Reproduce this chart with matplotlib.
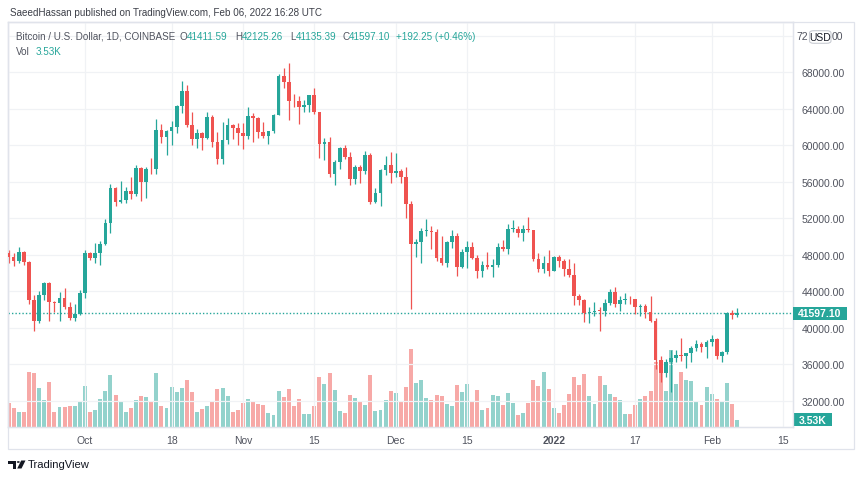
import matplotlib
matplotlib.use("Agg")
import matplotlib.pyplot as plt
import matplotlib.dates as mdates
from matplotlib.patches import Rectangle, FancyBboxPatch, Polygon, Circle
from matplotlib.transforms import blended_transform_factory
import pandas as pd

plt.rcParams['font.family'] = ['Liberation Sans', 'DejaVu Sans']

# ---------------- data ----------------
dates = pd.date_range("2021-09-16", "2022-02-06", freq="D")

opens = [
    48140, 47760, 47290, 48300, 47250, 42990, 40700, 43570, 44890, 42840, 42720, 43210, 42240, 41030, 41530,
    43790, 48140, 47660, 48200, 49230, 51500, 55340, 53800, 53950, 54960, 54680, 57480, 56010, 57370, 57350,
    61670, 60880, 61530, 62000, 64280, 66000, 62200, 60690, 61300, 60850, 63080, 60330, 58450, 60600, 62250, 61880,
    61340, 61010, 63230, 62940, 61430, 61020, 61530, 63310, 67550, 66940, 64900, 64810, 64150, 64390, 65520,
    63610, 60100, 60370, 56900, 58120, 59720, 58720, 56290, 57570, 57160, 58960, 53740, 54720, 57290, 57810,
    56950, 57220, 56500, 53600, 49200, 49400, 50600, 50650, 50500, 47600, 47150, 49390, 50100, 46700, 48350,
    48880, 47650, 46200, 46850, 46700, 46900, 48900, 48600, 50800, 50850, 50400, 50800, 50700, 47540, 46460, 47140,
    46210, 47740, 47300, 46440, 45830, 43430, 43080, 41560, 41730, 41860, 41830, 42740, 43920, 42590, 43090,
    43150, 43110, 42250, 42380, 41690, 40710, 36470, 35050, 36280, 36690, 36960, 36850, 37200, 37730, 38170, 37920,
    38480, 38740, 36950, 37320, 41570, 41411.59]

highs = [
    48490, 48150, 48840, 48370, 47350, 43640, 44000, 44980, 45000, 42960, 43920, 44350, 42790, 42600, 44100,
    48500, 48350, 49250, 49500, 51900, 55750, 55400, 56100, 55450, 56550, 57800, 57650, 57650, 58600, 62900,
    62350, 61700, 62650, 64450, 67000, 66600, 63700, 61750, 61450, 63700, 63300, 61500, 62500, 62950, 62300, 62400,
    62450, 64250, 63500, 63100, 62600, 61600, 63400, 67800, 68500, 69000, 65600, 65450, 65000, 65550, 66300,
    63620, 60800, 60950, 58350, 59850, 60000, 59300, 57850, 57800, 59400, 59170, 55300, 57400, 58850, 59250,
    59100, 57400, 57600, 53900, 49700, 50900, 51950, 51200, 50800, 50100, 49500, 50750, 50400, 48650, 49500,
    49450, 48000, 47300, 48300, 47500, 49300, 49600, 51350, 51850, 51150, 51250, 52100, 50720, 48150, 47900, 48550,
    47900, 47950, 47550, 47500, 47050, 43750, 43150, 42300, 42800, 42250, 43100, 44300, 44450, 43450, 43800,
    43450, 43200, 42650, 42550, 43500, 41100, 36850, 36550, 37550, 37550, 38900, 37250, 38000, 38700, 38400, 38700,
    39250, 38850, 37400, 41700, 41950, 42125.26]

lows = [
    47080, 46770, 47050, 46870, 42560, 39600, 40570, 43090, 40700, 41680, 40750, 42100, 40900, 40770, 41420,
    43300, 47450, 47100, 46900, 49050, 50400, 53350, 53650, 53700, 54100, 54450, 53900, 54200, 56850, 56880,
    60200, 58950, 60000, 61350, 63500, 62000, 60000, 59700, 59500, 60650, 59850, 58000, 57900, 60150, 60700, 60000,
    59600, 60700, 60400, 60750, 60750, 60150, 61350, 63300, 66300, 62800, 64200, 62300, 63700, 63600, 63400,
    58600, 58400, 56500, 55600, 57400, 58500, 55650, 55800, 55900, 56800, 53550, 53650, 53300, 56700, 55900,
    56500, 55850, 52000, 42000, 47700, 47100, 50050, 48650, 47350, 46850, 46700, 48700, 45700, 46550, 46500,
    47550, 45500, 45550, 46450, 45600, 46650, 48450, 48100, 50450, 50000, 49500, 50450, 47350, 46100, 46000, 45700,
    46200, 46700, 45700, 45550, 42500, 42450, 40650, 40500, 41250, 39650, 41300, 42450, 42300, 41850, 42550,
    42600, 41550, 41250, 41100, 40600, 35500, 34000, 34650, 32950, 36200, 36300, 35550, 36200, 37400, 37350, 36650,
    38000, 36600, 36250, 37150, 40950, 41135.39]

closes = [
    47760, 47290, 48300, 47250, 42990, 40700, 43570, 44890, 42840, 42720, 43210, 42240, 41030, 41530, 43790,
    48140, 47660, 48200, 49230, 51500, 55340, 53800, 53950, 54960, 54680, 57480, 56010, 57370, 57350, 61670,
    60880, 61530, 62000, 64280, 66000, 62200, 60690, 61300, 60850, 63080, 60330, 58450, 60600, 62250, 61880, 61340,
    61010, 63230, 62940, 61430, 61020, 61530, 63310, 67550, 66940, 64900, 64810, 64150, 64390, 65520, 63610,
    60100, 60370, 56900, 58120, 59720, 58720, 56290, 57570, 57160, 58960, 53740, 54720, 57290, 57810, 56950,
    57220, 56500, 53600, 49200, 49400, 50600, 50650, 50500, 47600, 47150, 49390, 50100, 46700, 48350, 48880,
    47650, 46200, 46850, 46700, 46900, 48900, 48600, 50800, 50850, 50400, 50800, 50700, 47540, 46460, 47140, 46210,
    47740, 47300, 46440, 45830, 43430, 43080, 41560, 41730, 41860, 41830, 42740, 43920, 42590, 43090, 43150,
    43110, 42250, 42380, 41690, 40710, 36470, 35050, 36280, 36690, 36960, 36850, 37200, 37730, 38170, 37920, 38480,
    38740, 36950, 37320, 41570, 41404.85, 41597.10]

volumes_k = [
    11.6, 9.0, 7.4, 7.1, 26.8, 26.3, 18.9, 13.1, 21.8, 7.4, 9.7, 9.7, 10.2, 10.2, 12.6,
    19.7, 7.4, 8.1, 13.5, 17.3, 25.2, 15.6, 12.3, 7.4, 9.4, 13.1, 15.2, 14.4, 11.9, 26.3, 10.3,
    9.0, 19.4, 16.8, 18.9, 22.9, 16.9, 7.1, 8.5, 10.3, 11.9, 18.5, 18.9, 15.2, 7.1, 8.1,
    11.6, 13.5, 12.7, 11.1, 10.6, 6.6, 5.8, 17.3, 14.7, 18.4, 10.3, 13.5, 6.1, 6.1, 10.3,
    24.2, 20.6, 26.0, 18.1, 7.9, 6.6, 15.6, 14.0, 12.3, 10.6, 25.2, 7.9, 8.2, 13.1, 17.6,
    16.5, 12.7, 19.4, 37.7, 21.3, 22.6, 14.0, 13.1, 15.6, 15.2, 11.1, 10.3, 20.2, 16.9, 21.0,
    12.7, 18.1, 8.2, 9.4, 15.6, 15.2, 10.6, 16.5, 11.6, 5.8, 6.9, 11.6, 22.6, 19.7, 26.8, 18.4,
    9.4, 6.9, 10.6, 16.0, 24.2, 20.2, 25.5, 15.2, 11.1, 24.7, 20.2, 16.1, 14.4, 13.1, 6.5,
    6.5, 10.6, 13.5, 15.2, 17.6, 31.5, 31.5, 17.2, 37.4, 20.9, 26.8, 22.9, 22.1, 12.7, 10.8, 19.5,
    16.1, 13.7, 12.7, 21.5, 11.3, 3.53]

price_ticks = [32000, 36000, 40000, 44000, 48000, 52000, 56000, 60000, 64000, 68000, 72000]
time_tick_dates = ["2021-10-01", "2021-10-18", "2021-11-01", "2021-11-15", "2021-12-01",
                   "2021-12-15", "2022-01-01", "2022-01-17", "2022-02-01", "2022-02-15"]
time_tick_labels = ["Oct", "18", "Nov", "15", "Dec", "15", "2022", "17", "Feb", "15"]

last_price = 41597.10
last_vol_label = "3.53K"

# ---------------- style ----------------
W, H = 860, 481
UP = "#26a69a"
DOWN = "#ef5350"
UP_V = "#93d2cc"
DOWN_V = "#f7a9a7"
TXT = "#50535e"
GRID = "#f0f2f5"
FRAME = "#e0e3eb"
FS = 7.5


def P(x, y):
    return (x / W, 1 - y / H)


fig = plt.figure(figsize=(W / 100, H / 100), dpi=100)
fig.patch.set_facecolor("white")

L, T, R, B = 8, 23, 793, 428
ax = fig.add_axes([L / W, 1 - B / H, (R - L) / W, (B - T) / H])
axv = ax.twinx()

x = mdates.date2num(dates)
x0 = mdates.date2num(pd.Timestamp("2021-10-01"))
ax.set_xlim(x0 - 15.11, x0 + 138.96)
ax.set_ylim(29117, 73515)
axv.set_ylim(0, 195.9)

# volume (underneath)
vcol = [UP_V if c >= o else DOWN_V for o, c in zip(opens, closes)]
axv.bar(x, volumes_k, width=0.78, color=vcol, linewidth=0)

ax.set_zorder(axv.get_zorder() + 1)
ax.patch.set_visible(False)

# grid
for p in price_ticks:
    ax.axhline(p, color=GRID, lw=0.9, zorder=0)
for d in time_tick_dates:
    ax.axvline(mdates.date2num(pd.Timestamp(d)), color=GRID, lw=0.9, zorder=0)

# candles
ccol = [UP if c >= o else DOWN for o, c in zip(opens, closes)]
ax.vlines(x, lows, highs, colors=ccol, lw=0.9, zorder=2)
bottoms = [min(o, c) for o, c in zip(opens, closes)]
heights = [max(abs(c - o), 90) for o, c in zip(opens, closes)]
ax.bar(x, heights, bottom=bottoms, width=0.72, color=ccol, linewidth=0, zorder=3)

# last price line
ax.axhline(last_price, color=UP, lw=1.0, ls=(0, (1, 1.5)), zorder=1)

# axes cosmetics
for a in (ax, axv):
    for s in a.spines.values():
        s.set_color(FRAME)
        s.set_linewidth(0.9)
axv.set_yticks([])
ax.yaxis.tick_right()
ax.set_yticks(price_ticks)
# the top label is partly hidden behind the "USD" badge (drawn separately below)
ax.set_yticklabels([f"{p:.2f}" if p != price_ticks[-1] else "" for p in price_ticks])
ax.tick_params(axis="y", length=0, pad=6, labelsize=FS, labelcolor=TXT)
ax.set_xticks([mdates.date2num(pd.Timestamp(d)) for d in time_tick_dates])
ax.set_xticklabels(time_tick_labels)
ax.tick_params(axis="x", length=0, pad=5.5, labelsize=FS, labelcolor=TXT)
ax.get_xticklabels()[6].set_fontweight("bold")

# visible pieces of the top price label around the USD badge
trl = blended_transform_factory(fig.transFigure, ax.transData)
top_label = f"{price_ticks[-1]:.2f}"
ax.text(808 / W, price_ticks[-1], top_label[:2], transform=trl, ha="right", va="center",
        fontsize=FS, color=TXT, clip_on=False)
ax.text(831.5 / W, price_ticks[-1], top_label[-2:], transform=trl, ha="left", va="center",
        fontsize=FS, color=TXT, clip_on=False)

# outer frame around price / time scales
fig.add_artist(Rectangle(P(L, 450), (854 - L) / W, (450 - T) / H, transform=fig.transFigure,
                         fill=False, edgecolor=FRAME, lw=0.9))

# price tag and volume tag
ax.add_patch(Rectangle((R / W, last_price - 700), 54 / W, 1400, transform=trl, clip_on=False,
                       facecolor=UP, edgecolor="none", zorder=5))
ax.text(820 / W, last_price, f"{last_price:.2f}", transform=trl, ha="center", va="center",
        color="white", fontsize=FS, fontweight="bold", zorder=6, clip_on=False)
trv = blended_transform_factory(fig.transFigure, axv.transData)
axv.add_patch(Rectangle((R / W, 0.3), 39 / W, 6.3, transform=trv, clip_on=False,
                        facecolor=UP, edgecolor="none", zorder=5))
axv.text(812.5 / W, 3.45, last_vol_label, transform=trv, ha="center", va="center",
         color="white", fontsize=FS, fontweight="bold", zorder=6, clip_on=False)

# USD badge
fig.add_artist(FancyBboxPatch(P(809.5, 44.3), 21.5 / W, 12.6 / H, boxstyle="round,pad=0,rounding_size=0.005",
                              transform=fig.transFigure, facecolor="white", edgecolor="#c9ccd3", lw=0.8))
fig.text(*P(820.3, 37.8), "USD", ha="center", va="center", fontsize=FS, color="#131722")

# header texts
fig.text(*P(10, 13.3), "SaeedHassan published on TradingView.com, Feb 06, 2022 16:28 UTC",
         ha="left", va="center", fontsize=7.1, color="#3c3f48")
legend_parts = [
    (16, "Bitcoin / U.S. Dollar, 1D, COINBASE", TXT),
    (179.5, "O", TXT), (186.5, f"{opens[-1]:.2f}", UP),
    (235.5, "H", TXT), (242, f"{highs[-1]:.2f}", UP),
    (290, "L", TXT), (295.5, f"{lows[-1]:.2f}", UP),
    (342.5, "C", TXT), (348.5, f"{closes[-1]:.2f}", UP),
    (396.5, "+192.25 (+0.46%)", UP),
]
for px, s, c in legend_parts:
    fig.text(*P(px, 36.7), s, ha="left", va="center", fontsize=7.1, color=c)
fig.text(*P(16, 51.7), "Vol", ha="left", va="center", fontsize=7.1, color=TXT)
fig.text(*P(36, 51.7), last_vol_label, ha="left", va="center", fontsize=7.1, color=UP)

# TradingView logo
logo = "#131722"
fig.add_artist(Polygon([P(8, 461.5), P(16, 461.5), P(16, 469.5), P(12.5, 469.5), P(12.5, 464.5), P(8, 464.5)],
                       closed=True, transform=fig.transFigure, facecolor=logo, edgecolor="none"))
fig.add_artist(Circle(P(18.3, 463.0), 1.5 / W, transform=fig.transFigure, facecolor=logo, edgecolor="none"))
fig.add_artist(Polygon([P(21.2, 461.5), P(25.5, 461.5), P(21.5, 469.5), P(17.2, 469.5)],
                       closed=True, transform=fig.transFigure, facecolor=logo, edgecolor="none"))
fig.text(*P(28, 465.5), "TradingView", ha="left", va="center", fontsize=8.1, color="#131722")

fig.savefig("out.png", dpi=100, facecolor="white")
